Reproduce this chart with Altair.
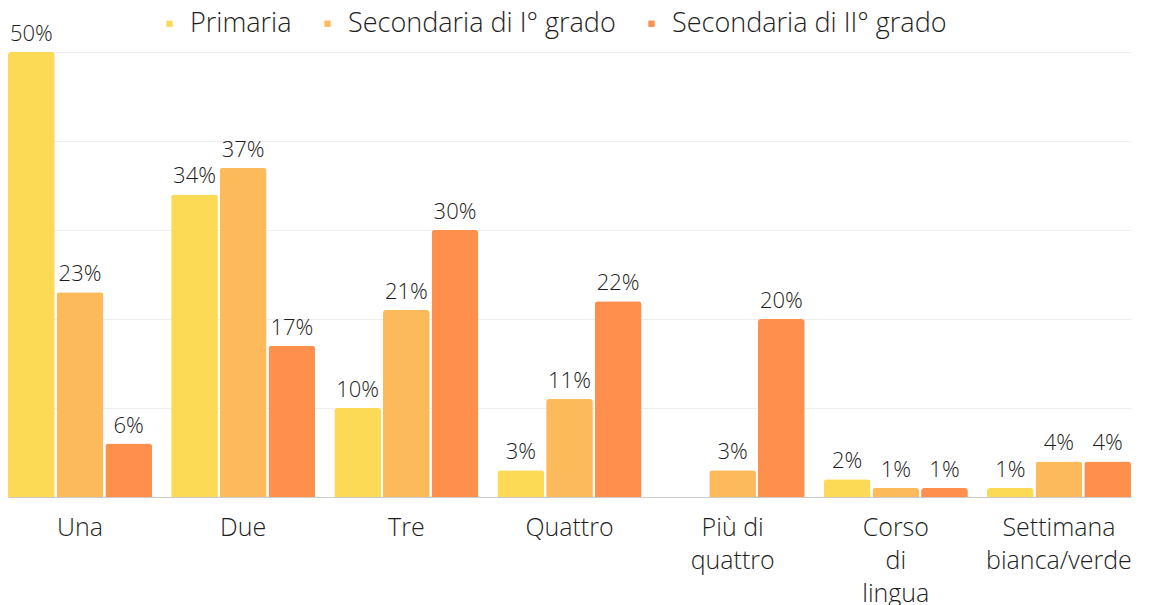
import altair as alt
import pandas as pd

categories = ["Una", "Due", "Tre", "Quattro", "Più di|quattro", "Corso|di|lingua", "Settimana|bianca/verde"]
series = ["Primaria", "Secondaria di I° grado", "Secondaria di II° grado"]
primaria = [50, 34, 10, 3, 0, 2, 1]
secondaria_1 = [23, 37, 21, 11, 3, 1, 4]
secondaria_2 = [6, 17, 30, 22, 20, 1, 4]
colors = ["#FDDA56", "#FCBA5A", "#FE8F4D"]

rows = []
for s, vals in zip(series, [primaria, secondaria_1, secondaria_2]):
    for c, v in zip(categories, vals):
        rows.append({"cat": c, "serie": s, "val": v, "lbl": f"{v}%"})
df = pd.DataFrame(rows)

FONT = "Open Sans"

base = alt.Chart(df).encode(
    x=alt.X("cat:N", sort=categories, title=None,
            scale=alt.Scale(paddingInner=0.117, paddingOuter=0),
            axis=alt.Axis(labelExpr="split(datum.label, '|')", labelAngle=0,
                          labelFontSize=25, labelColor="#1e1e1e", labelFont=FONT,
                          labelFontWeight=300,
                          labelPadding=18, labelLineHeight=33, ticks=False,
                          domainColor="#cccccc", labelBaseline="top")),
    xOffset=alt.XOffset("serie:N", sort=series,
                        scale=alt.Scale(paddingInner=0.04, paddingOuter=0)),
)

bars = base.mark_bar(cornerRadiusTopLeft=3, cornerRadiusTopRight=3).encode(
    y=alt.Y("val:Q", title=None, scale=alt.Scale(domain=[0, 50], nice=False),
            axis=alt.Axis(labels=False, ticks=False, domain=False, grid=True,
                          gridColor="#eeeeee", values=[0, 10, 20, 30, 40, 50])),
    color=alt.Color("serie:N", sort=series, title=None,
                    scale=alt.Scale(domain=series, range=colors),
                    legend=alt.Legend(orient="none", legendX=148, legendY=-42,
                                      direction="horizontal", symbolType="square",
                                      symbolSize=40, labelFontSize=27, labelFont=FONT,
                                      labelFontWeight=300, labelLimit=0,
                                      labelColor="#1e1e1e", columnPadding=22,
                                      labelOffset=7, symbolStrokeWidth=0)),
)

text = base.mark_text(baseline="alphabetic", dy=-11, fontSize=22, font=FONT,
                      fontWeight=300, color="#1e1e1e").encode(
    y=alt.Y("val:Q"),
    text="lbl:N",
).transform_filter("datum.val > 0")

chart = (bars + text).properties(
    width=1123, height=445,
    padding={"top": 2, "left": 0, "right": 0, "bottom": 0},
).configure_view(stroke=None)

chart.save("out.html", embed_options={"renderer": "svg", "actions": False})
